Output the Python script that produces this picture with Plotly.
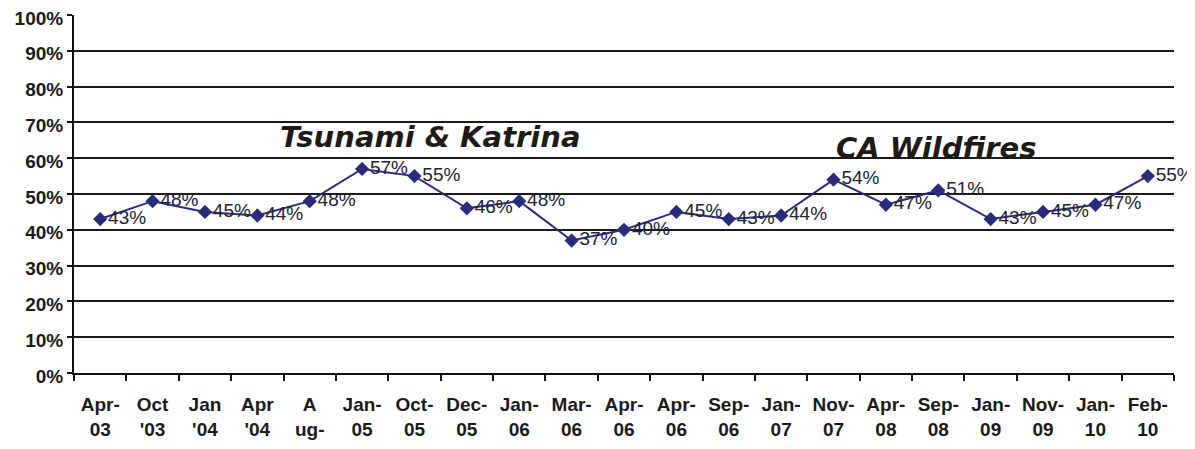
import plotly.graph_objects as go

periods = ["Apr-03", "Oct-03", "Jan-04", "Apr-04", "Aug-04", "Jan-05", "Oct-05",
           "Dec-05", "Jan-06", "Mar-06", "Apr-06a", "Apr-06b", "Sep-06", "Jan-07",
           "Nov-07", "Apr-08", "Sep-08", "Jan-09", "Nov-09", "Jan-10", "Feb-10"]
tick_labels = ["Apr-<br>03", "Oct<br>'03", "Jan<br>'04", "Apr<br>'04", "A<br>ug-",
               "Jan-<br>05", "Oct-<br>05", "Dec-<br>05", "Jan-<br>06", "Mar-<br>06",
               "Apr-<br>06", "Apr-<br>06", "Sep-<br>06", "Jan-<br>07", "Nov-<br>07",
               "Apr-<br>08", "Sep-<br>08", "Jan-<br>09", "Nov-<br>09", "Jan-<br>10",
               "Feb-<br>10"]
values = [43, 48, 45, 44, 48, 57, 55, 46, 48, 37, 40, 45, 43, 44, 54, 47, 51, 43, 45, 47, 55]
y_ticks = [0, 10, 20, 30, 40, 50, 60, 70, 80, 90, 100]
grid_ticks = [10, 20, 30, 40, 50, 60, 70, 80, 90]
events = ["Tsunami & Katrina", "CA Wildfires"]

idx = list(range(len(periods)))

LINE = "#2b2b7c"
TICKFONT = dict(family="Liberation Sans, Arial", size=19, color="#1a1a1a", weight="bold")

fig = go.Figure()
# helper (empty) trace so the gridline axis is rendered
fig.add_trace(go.Scatter(x=[], y=[], yaxis="y2", showlegend=False, hoverinfo="skip"))
fig.add_trace(go.Scatter(
    x=idx, y=values, mode="lines+markers+text",
    line=dict(color=LINE, width=2),
    marker=dict(symbol="diamond", size=11, color=LINE),
    text=[f"{v}%" for v in values], textposition="middle right",
    textfont=dict(family="Liberation Sans, Arial", size=19, color="#222233"),
    customdata=periods, hoverinfo="x+y", showlegend=False, cliponaxis=False,
))

fig.update_layout(
    width=1187, height=441,
    margin=dict(l=66, r=21, t=7, b=76),
    paper_bgcolor="white", plot_bgcolor="white",
    xaxis=dict(
        range=[-0.5, len(periods) - 0.5], automargin=False,
        tickmode="array", tickvals=idx, ticktext=tick_labels,
        ticks="outside", ticklen=13, tickcolor="rgba(0,0,0,0)",
        showgrid=False, zeroline=False,
        showline=True, linecolor="#111111", linewidth=2,
        tickfont=TICKFONT, ticklabeloverflow="allow",
        minor=dict(tickmode="linear", tick0=-0.5, dtick=1, ticks="outside",
                   ticklen=6, tickwidth=2, tickcolor="#111111", showgrid=False),
    ),
    yaxis=dict(
        range=[0, 100], automargin=False, tickmode="array", tickvals=y_ticks,
        ticktext=[f"{t}%" for t in y_ticks],
        ticks="outside", ticklen=5, tickwidth=2, tickcolor="#111111",
        showgrid=False, zeroline=False,
        showline=True, linecolor="#111111", linewidth=2,
        tickfont=TICKFONT, ticklabeloverflow="allow", ticklabelshift=3,
    ),
    yaxis2=dict(
        range=[0, 100], overlaying="y", side="left", anchor="x", visible=True,
        automargin=False,
        tickmode="array", tickvals=grid_ticks, showticklabels=False, ticks="",
        showgrid=True, gridcolor="#1a1a1a", gridwidth=2,
        zeroline=False, showline=False,
    ),
    annotations=[
        dict(xref="paper", yref="paper", x=0.3236, y=0.659, text=events[0],
             showarrow=False, xanchor="center", yanchor="middle",
             font=dict(family="DejaVu Sans", size=29, color="#1e1a16",
                       weight="bold", style="italic")),
        dict(xref="paper", yref="paper", x=0.7845, y=0.628, text=events[1],
             showarrow=False, xanchor="center", yanchor="middle",
             font=dict(family="DejaVu Sans", size=29, color="#1e1a16",
                       weight="bold", style="italic")),
    ],
)

fig.write_html("out.html")
